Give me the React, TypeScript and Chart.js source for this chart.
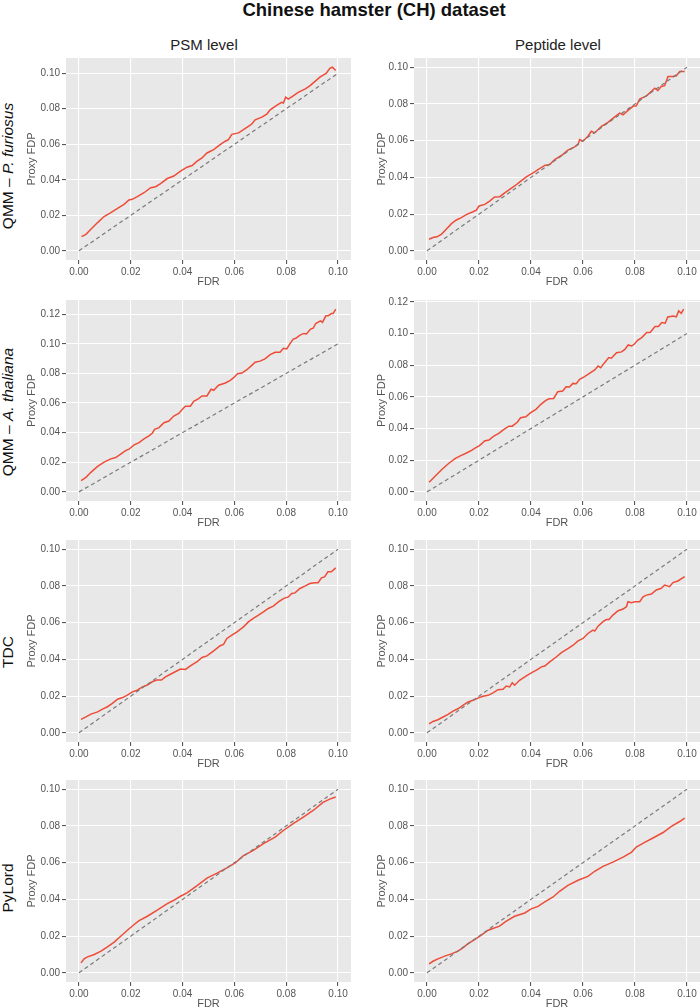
import React, { useEffect, useRef } from "react";
import { Chart, registerables } from "chart.js";

Chart.register(...registerables);

// ---------- DATA ----------
const fdrTicks = [0, 0.02, 0.04, 0.06, 0.08, 0.1];
const proxyTicks010 = [0, 0.02, 0.04, 0.06, 0.08, 0.1];
const proxyTicks012 = [0, 0.02, 0.04, 0.06, 0.08, 0.1, 0.12];
const identityFdr = [0, 0.1];
const identityProxy = [0, 0.1];

// QMM – P. furiosus, PSM level
const pfuPsmFdr = [0.001, 0.0027, 0.0046, 0.0072, 0.0097, 0.0123, 0.0149, 0.0174, 0.0193, 0.0206, 0.0225, 0.0251, 0.0277, 0.0296, 0.0315, 0.0341, 0.0366, 0.0392, 0.0417, 0.0437, 0.0456, 0.0475, 0.0494, 0.052, 0.0545, 0.0565, 0.0577, 0.059, 0.0616, 0.0635, 0.0654, 0.0667, 0.068, 0.0706, 0.0725, 0.0738, 0.0763, 0.0782, 0.0789, 0.0798, 0.0808, 0.0827, 0.0846, 0.0872, 0.0891, 0.091, 0.093, 0.0955, 0.0968, 0.0978, 0.0991];
const pfuPsmProxy = [0.008, 0.0093, 0.0121, 0.0159, 0.0193, 0.0215, 0.0239, 0.0262, 0.0286, 0.029, 0.0305, 0.0327, 0.0355, 0.0361, 0.0379, 0.0407, 0.0421, 0.0449, 0.0471, 0.048, 0.0505, 0.0523, 0.0551, 0.057, 0.0598, 0.0617, 0.0626, 0.0656, 0.0664, 0.0682, 0.0701, 0.0714, 0.0738, 0.0753, 0.077, 0.0794, 0.0819, 0.0836, 0.0832, 0.0865, 0.0854, 0.0873, 0.0892, 0.091, 0.0929, 0.0953, 0.0978, 0.1, 0.1028, 0.1034, 0.1015];

// QMM – P. furiosus, Peptide level
const pfuPepFdr = [0.0008, 0.0023, 0.0038, 0.0055, 0.0074, 0.0094, 0.0113, 0.0132, 0.0151, 0.0177, 0.019, 0.02, 0.0222, 0.0241, 0.026, 0.028, 0.0299, 0.0318, 0.0337, 0.0356, 0.0382, 0.0408, 0.0433, 0.0453, 0.0472, 0.0491, 0.0517, 0.0542, 0.0568, 0.0581, 0.0587, 0.06, 0.0619, 0.0632, 0.0645, 0.0671, 0.0696, 0.0722, 0.0741, 0.0754, 0.0773, 0.0792, 0.0805, 0.0818, 0.0844, 0.0856, 0.0876, 0.0888, 0.0901, 0.0914, 0.0927, 0.0946, 0.0959, 0.0972, 0.0991];
const pfuPepProxy = [0.0063, 0.0072, 0.0076, 0.009, 0.0118, 0.0148, 0.0168, 0.0181, 0.0197, 0.0213, 0.0222, 0.0244, 0.0253, 0.0271, 0.0293, 0.0295, 0.0316, 0.0335, 0.0353, 0.0374, 0.0403, 0.0425, 0.0447, 0.0465, 0.047, 0.0497, 0.0519, 0.0548, 0.0566, 0.0579, 0.0606, 0.0597, 0.0624, 0.0651, 0.0642, 0.0678, 0.07, 0.0729, 0.075, 0.0741, 0.0765, 0.0787, 0.079, 0.0826, 0.0844, 0.0859, 0.0886, 0.0873, 0.0895, 0.0899, 0.0949, 0.0949, 0.0953, 0.0976, 0.0976];

// QMM – A. thaliana, PSM level
const athPsmFdr = [0.0008, 0.0027, 0.0046, 0.0072, 0.0097, 0.0123, 0.0142, 0.0161, 0.018, 0.0193, 0.0213, 0.0232, 0.0251, 0.027, 0.0283, 0.0292, 0.0309, 0.0328, 0.0347, 0.0366, 0.0385, 0.0402, 0.0411, 0.043, 0.0443, 0.0462, 0.0475, 0.0494, 0.051, 0.052, 0.0539, 0.0565, 0.0584, 0.0597, 0.0612, 0.0629, 0.0648, 0.0667, 0.068, 0.0699, 0.0718, 0.0738, 0.0757, 0.0776, 0.0789, 0.0802, 0.0814, 0.0827, 0.0837, 0.0853, 0.0868, 0.0878, 0.0894, 0.0904, 0.0914, 0.0932, 0.094, 0.0953, 0.0962, 0.0974, 0.0981, 0.0991];
const athPsmProxy = [0.0076, 0.0098, 0.0132, 0.0172, 0.0201, 0.0223, 0.0232, 0.0255, 0.0279, 0.0288, 0.0317, 0.0333, 0.0358, 0.0378, 0.0396, 0.0422, 0.0434, 0.0467, 0.0478, 0.0512, 0.053, 0.0563, 0.0579, 0.0579, 0.0612, 0.063, 0.0648, 0.0648, 0.0693, 0.0686, 0.072, 0.0735, 0.0753, 0.0771, 0.0798, 0.0802, 0.0825, 0.0854, 0.0876, 0.0883, 0.0898, 0.0927, 0.0943, 0.0943, 0.097, 0.0965, 0.0999, 0.1032, 0.1037, 0.1059, 0.107, 0.1066, 0.1099, 0.1106, 0.1137, 0.1155, 0.1144, 0.1189, 0.1189, 0.1204, 0.1204, 0.1234];

// QMM – A. thaliana, Peptide level
const athPepFdr = [0.0008, 0.0031, 0.0057, 0.0083, 0.0109, 0.0134, 0.0154, 0.0173, 0.0186, 0.0199, 0.0212, 0.0221, 0.0238, 0.0257, 0.0276, 0.0296, 0.0315, 0.0328, 0.0348, 0.036, 0.038, 0.0399, 0.0419, 0.0438, 0.0457, 0.047, 0.0487, 0.0503, 0.0522, 0.0535, 0.0548, 0.0561, 0.0574, 0.0587, 0.0606, 0.0625, 0.0645, 0.0658, 0.0668, 0.0683, 0.0699, 0.0709, 0.0729, 0.0748, 0.0761, 0.0774, 0.0787, 0.0797, 0.081, 0.0826, 0.0845, 0.0858, 0.0877, 0.089, 0.0903, 0.0916, 0.0926, 0.0948, 0.0959, 0.0968, 0.0978, 0.0987];
const athPepProxy = [0.0061, 0.0099, 0.0141, 0.0179, 0.0211, 0.0232, 0.0247, 0.0264, 0.0278, 0.0289, 0.0306, 0.0321, 0.0327, 0.0352, 0.0369, 0.0394, 0.0415, 0.0415, 0.0441, 0.0468, 0.0474, 0.05, 0.0521, 0.0553, 0.0578, 0.0588, 0.059, 0.0633, 0.0637, 0.0664, 0.0662, 0.0685, 0.0683, 0.0711, 0.0728, 0.0749, 0.077, 0.0795, 0.0784, 0.0816, 0.0848, 0.0844, 0.0879, 0.0884, 0.09, 0.0928, 0.0922, 0.0932, 0.0957, 0.0974, 0.1006, 0.1006, 0.1044, 0.1044, 0.1069, 0.1065, 0.1105, 0.1111, 0.1105, 0.1143, 0.1128, 0.1154];

// TDC, PSM level
const tdcPsmFdr = [0.0008, 0.0027, 0.0046, 0.0072, 0.0091, 0.011, 0.0129, 0.0149, 0.0168, 0.0187, 0.0206, 0.0225, 0.0245, 0.0264, 0.0283, 0.03, 0.0318, 0.0334, 0.0353, 0.0379, 0.0392, 0.0411, 0.043, 0.0456, 0.0475, 0.0494, 0.052, 0.0545, 0.0558, 0.0571, 0.059, 0.061, 0.0635, 0.0654, 0.0673, 0.0693, 0.0712, 0.0731, 0.075, 0.077, 0.0789, 0.0808, 0.0821, 0.0834, 0.0853, 0.0872, 0.0891, 0.091, 0.0923, 0.0936, 0.0948, 0.0961, 0.0974, 0.0991];
const tdcPsmProxy = [0.0073, 0.0087, 0.0102, 0.0114, 0.0129, 0.0142, 0.016, 0.0183, 0.0192, 0.0205, 0.0223, 0.0232, 0.025, 0.026, 0.0278, 0.0287, 0.0287, 0.0305, 0.0319, 0.0338, 0.0347, 0.0345, 0.0365, 0.0387, 0.041, 0.0419, 0.0446, 0.0474, 0.0481, 0.0514, 0.0532, 0.055, 0.0577, 0.0604, 0.0623, 0.0641, 0.0659, 0.0677, 0.069, 0.0713, 0.0731, 0.074, 0.0759, 0.0762, 0.0786, 0.0799, 0.0813, 0.0817, 0.0817, 0.0844, 0.0849, 0.0877, 0.0877, 0.0898];

// TDC, Peptide level
const tdcPepFdr = [0.0008, 0.0023, 0.0042, 0.0062, 0.0081, 0.01, 0.0119, 0.0138, 0.0158, 0.0177, 0.0196, 0.0215, 0.0235, 0.0254, 0.0273, 0.0292, 0.0305, 0.0318, 0.0328, 0.0337, 0.0356, 0.0382, 0.0408, 0.0421, 0.044, 0.0453, 0.0472, 0.0497, 0.0517, 0.0542, 0.0562, 0.0581, 0.06, 0.0619, 0.0638, 0.0645, 0.0658, 0.0677, 0.069, 0.07, 0.0715, 0.0735, 0.0754, 0.0767, 0.0773, 0.0786, 0.0799, 0.0818, 0.0831, 0.0844, 0.0863, 0.0882, 0.0901, 0.0914, 0.0927, 0.0933, 0.0946, 0.0965, 0.0991];
const tdcPepProxy = [0.0049, 0.0062, 0.0071, 0.0086, 0.01, 0.0118, 0.0131, 0.0149, 0.0168, 0.0177, 0.0189, 0.0199, 0.0204, 0.0217, 0.0235, 0.0237, 0.0255, 0.025, 0.0273, 0.0259, 0.0286, 0.031, 0.0332, 0.0341, 0.0359, 0.0364, 0.0386, 0.0413, 0.0437, 0.0459, 0.0477, 0.0501, 0.0514, 0.0541, 0.0559, 0.0554, 0.0581, 0.0605, 0.0617, 0.0617, 0.0641, 0.0665, 0.0674, 0.0687, 0.0714, 0.0709, 0.0714, 0.0714, 0.0741, 0.075, 0.0756, 0.0778, 0.0787, 0.0805, 0.0799, 0.0796, 0.0818, 0.0827, 0.0851];

// PyLord, PSM level
const pylPsmFdr = [0.0008, 0.002, 0.0033, 0.0059, 0.0085, 0.011, 0.0136, 0.0161, 0.0187, 0.0213, 0.0232, 0.0264, 0.0302, 0.0341, 0.0366, 0.0392, 0.0417, 0.0456, 0.0494, 0.0533, 0.0571, 0.0603, 0.0635, 0.0673, 0.0712, 0.0757, 0.0789, 0.0827, 0.0866, 0.0904, 0.0942, 0.0968, 0.0991];
const pylPsmProxy = [0.0054, 0.0076, 0.0087, 0.01, 0.0118, 0.0141, 0.0167, 0.0199, 0.0232, 0.0263, 0.0284, 0.0308, 0.0341, 0.0377, 0.0395, 0.0417, 0.0435, 0.0475, 0.0516, 0.0543, 0.0571, 0.0598, 0.0638, 0.0667, 0.0703, 0.0739, 0.0775, 0.0812, 0.0848, 0.0884, 0.0928, 0.0946, 0.0957];

// PyLord, Peptide level
const pylPepFdr = [0.0008, 0.0023, 0.0042, 0.0068, 0.0094, 0.0119, 0.0138, 0.0158, 0.0183, 0.0209, 0.0235, 0.0279, 0.0305, 0.0337, 0.0376, 0.0401, 0.0427, 0.0453, 0.0485, 0.051, 0.0542, 0.0581, 0.0619, 0.0645, 0.0677, 0.0715, 0.0754, 0.0786, 0.0805, 0.0837, 0.0869, 0.0908, 0.094, 0.0972, 0.0991];
const pylPepProxy = [0.0049, 0.0063, 0.0076, 0.0091, 0.0103, 0.0118, 0.0136, 0.0159, 0.0181, 0.0205, 0.0232, 0.0254, 0.0281, 0.0308, 0.0326, 0.0348, 0.0362, 0.0386, 0.0413, 0.0444, 0.0476, 0.0504, 0.0525, 0.0553, 0.058, 0.0603, 0.063, 0.0656, 0.0685, 0.071, 0.0734, 0.0764, 0.0797, 0.0824, 0.0842];

// ---------- STYLE / LAYOUT ----------
const FONT = '"Liberation Sans", Arial, Helvetica, sans-serif';
const RED = "#EE4C38";
const PANEL_BG = "#E8E8E8";

type PanelProps = {
  fdr: number[];
  proxy: number[];
  yTicks: number[];
  left: number;
  width: number;
  yAxisW: number;
  padRight: number;
  top: number;
  bottom: number;
};

const X_AXIS_H = 34;
const PAD_TOP = 10;

const bgPlugin = {
  id: "panelBg",
  beforeDraw(chart: any) {
    const { ctx, chartArea: a } = chart;
    if (!a) return;
    ctx.save();
    ctx.fillStyle = PANEL_BG;
    ctx.fillRect(a.left, a.top, a.right - a.left, a.bottom - a.top);
    ctx.restore();
  },
};

function Panel(p: PanelProps) {
  const ref = useRef<HTMLCanvasElement>(null);
  const canvasTop = p.top - PAD_TOP;
  const canvasH = p.bottom - p.top + PAD_TOP + X_AXIS_H;

  useEffect(() => {
    if (!ref.current) return;
    const ymax = Math.max(Math.max(...p.proxy), Math.max(...identityProxy));
    const ymin = Math.min(Math.min(...p.proxy), Math.min(...identityProxy));
    const yr = ymax - ymin;
    const xmax = Math.max(Math.max(...p.fdr), Math.max(...identityFdr));
    const xmin = Math.min(Math.min(...p.fdr), Math.min(...identityFdr));
    const xr = xmax - xmin;

    const chart = new Chart(ref.current, {
      type: "line",
      data: {
        datasets: [
          {
            data: identityFdr.map((x, i) => ({ x, y: identityProxy[i] })),
            borderColor: "#7A7A7A",
            borderWidth: 1.2,
            borderDash: [4, 3],
            pointRadius: 0,
            tension: 0,
          },
          {
            data: p.fdr.map((x, i) => ({ x, y: p.proxy[i] })),
            borderColor: RED,
            borderWidth: 1.5,
            pointRadius: 0,
            tension: 0,
          },
        ],
      },
      options: {
        animation: false,
        responsive: false,
        devicePixelRatio: 1,
        events: [],
        layout: { padding: { left: 0, right: p.padRight, top: PAD_TOP, bottom: 0 } },
        plugins: { legend: { display: false }, tooltip: { enabled: false } },
        scales: {
          x: {
            type: "linear",
            min: xmin - 0.05 * xr,
            max: xmax + 0.05 * xr,
            afterBuildTicks: (s: any) => {
              s.ticks = fdrTicks.map((v) => ({ value: v }));
            },
            afterFit: (s: any) => {
              s.height = X_AXIS_H;
            },
            grid: { color: "#FFFFFF", lineWidth: 1.1, tickColor: "#555555", tickLength: 4, drawTicks: true },
            border: { display: false },
            ticks: {
              color: "#555555",
              font: { family: FONT, size: 10 },
              padding: 2,
              maxRotation: 0,
              autoSkip: false,
              callback: (v: any) => Number(v).toFixed(2),
            },
            title: {
              display: true,
              text: "FDR",
              color: "#555555",
              font: { family: FONT, size: 11 },
              padding: { top: 0, bottom: 5 },
            },
          },
          y: {
            type: "linear",
            min: ymin - 0.05 * yr,
            max: ymax + 0.05 * yr,
            afterBuildTicks: (s: any) => {
              s.ticks = p.yTicks.map((v) => ({ value: v }));
            },
            afterFit: (s: any) => {
              s.width = p.yAxisW;
            },
            grid: { color: "#FFFFFF", lineWidth: 1.1, tickColor: "#555555", tickLength: 4, drawTicks: true },
            border: { display: false },
            ticks: {
              color: "#555555",
              font: { family: FONT, size: 10 },
              padding: 2,
              autoSkip: false,
              callback: (v: any) => Number(v).toFixed(2),
            },
            title: {
              display: true,
              text: "Proxy FDP",
              color: "#555555",
              font: { family: FONT, size: 11 },
              padding: { top: 5, bottom: 0 },
            },
          },
        },
      },
      plugins: [bgPlugin],
    } as any);
    return () => chart.destroy();
  }, []);

  return (
    <canvas
      ref={ref}
      width={p.width}
      height={canvasH}
      style={{ position: "absolute", left: p.left, top: canvasTop, width: p.width, height: canvasH }}
    />
  );
}

const COLS = [
  { left: 20, width: 335, yAxisW: 46, padRight: 4 },
  { left: 370, width: 330, yAxisW: 44, padRight: 0 },
];
const ROWS = [
  { top: 58, bottom: 260, labelY: 166 },
  { top: 300, bottom: 501, labelY: 412 },
  { top: 540, bottom: 742, labelY: 652 },
  { top: 780, bottom: 982, labelY: 888 },
];

const panelData = [
  [
    { fdr: pfuPsmFdr, proxy: pfuPsmProxy, yTicks: proxyTicks010 },
    { fdr: pfuPepFdr, proxy: pfuPepProxy, yTicks: proxyTicks010 },
  ],
  [
    { fdr: athPsmFdr, proxy: athPsmProxy, yTicks: proxyTicks012 },
    { fdr: athPepFdr, proxy: athPepProxy, yTicks: proxyTicks012 },
  ],
  [
    { fdr: tdcPsmFdr, proxy: tdcPsmProxy, yTicks: proxyTicks010 },
    { fdr: tdcPepFdr, proxy: tdcPepProxy, yTicks: proxyTicks010 },
  ],
  [
    { fdr: pylPsmFdr, proxy: pylPsmProxy, yTicks: proxyTicks010 },
    { fdr: pylPepFdr, proxy: pylPepProxy, yTicks: proxyTicks010 },
  ],
];

const rowLabels: React.ReactNode[] = [
  <>QMM – <i>P. furiosus</i></>,
  <>QMM – <i>A. thaliana</i></>,
  <>TDC</>,
  <>PyLord</>,
];

export default function App() {
  return (
    <div
      style={{
        position: "absolute",
        left: 0,
        top: 0,
        width: 700,
        height: 1008,
        overflow: "hidden",
        background: "#FFFFFF",
        fontFamily: FONT,
      }}
    >
      <div
        style={{
          position: "absolute",
          left: 374,
          top: 10,
          transform: "translate(-50%, -50%)",
          fontWeight: "bold",
          fontSize: 18.5,
          whiteSpace: "nowrap",
          color: "#111",
        }}
      >
        Chinese hamster (CH) dataset
      </div>
      <div
        style={{ position: "absolute", left: 204, top: 44, transform: "translate(-50%, -50%)", fontSize: 15, whiteSpace: "nowrap", color: "#222" }}
      >
        PSM level
      </div>
      <div
        style={{ position: "absolute", left: 558, top: 44, transform: "translate(-50%, -50%)", fontSize: 15, whiteSpace: "nowrap", color: "#222" }}
      >
        Peptide level
      </div>
      {ROWS.map((r, ri) => (
        <div
          key={"lab" + ri}
          style={{
            position: "absolute",
            left: 8,
            top: r.labelY,
            transform: "translate(-50%, -50%) rotate(-90deg)",
            fontSize: 15.5,
            whiteSpace: "nowrap",
            color: "#111",
            lineHeight: 1,
          }}
        >
          {rowLabels[ri]}
        </div>
      ))}
      {ROWS.map((r, ri) =>
        COLS.map((c, ci) => (
          <Panel
            key={ri + "-" + ci}
            fdr={panelData[ri][ci].fdr}
            proxy={panelData[ri][ci].proxy}
            yTicks={panelData[ri][ci].yTicks}
            left={c.left}
            width={c.width}
            yAxisW={c.yAxisW}
            padRight={c.padRight}
            top={r.top}
            bottom={r.bottom}
          />
        ))
      )}
    </div>
  );
}
